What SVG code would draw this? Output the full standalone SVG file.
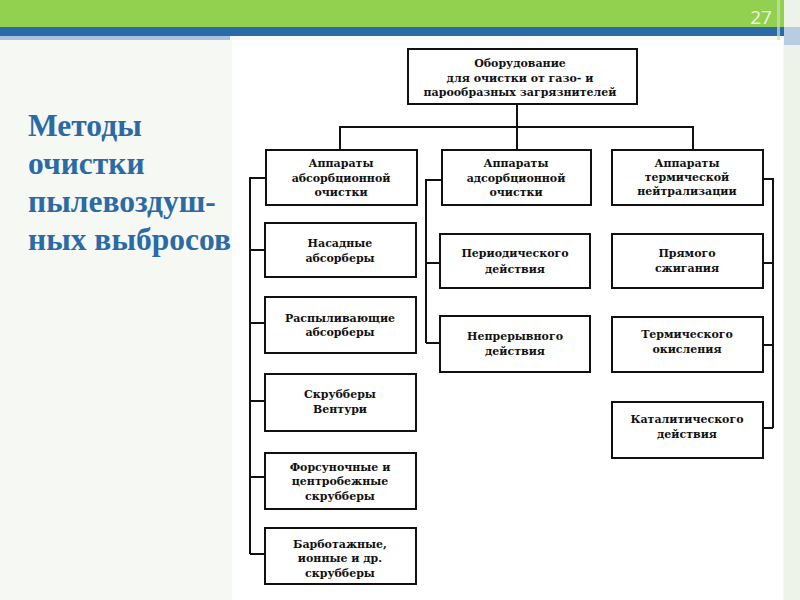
<svg xmlns="http://www.w3.org/2000/svg" width="800" height="600" viewBox="0 0 800 600">
<style>
.box{fill:#fff;stroke:#111;stroke-width:2}
.ln{fill:none;stroke:#111;stroke-width:2}
.t{font-family:"DejaVu Serif","Liberation Serif",serif;font-weight:bold;font-size:11px;fill:#111;text-anchor:middle}
.title{font-family:"Liberation Serif",serif;font-weight:bold;font-size:31.5px;fill:#2c6aa6}
</style>
<rect x="0" y="0" width="800" height="600" fill="#f6f8f3"/>
<rect x="0" y="0" width="800" height="27" fill="#92d050"/>
<rect x="0" y="27" width="800" height="9" fill="#2a6aa8"/>
<rect x="0" y="36" width="230" height="4" fill="#a9c3df"/>
<rect x="777" y="0" width="3" height="40" fill="#c8e3b0" opacity="0.7"/>
<rect x="784" y="0" width="16" height="600" fill="#eef3ea"/>
<rect x="784" y="27" width="16" height="18" fill="#b9cde2"/>
<text x="761" y="24" font-family="Open Sans,Liberation Sans,sans-serif" font-size="19" fill="#eef6e6" text-anchor="middle">27</text>
<g id="title">
<text class="title" x="28" y="136">Методы</text>
<text class="title" x="28" y="174">очистки</text>
<text class="title" x="28" y="212">пылевоздуш-</text>
<text class="title" x="28" y="250">ных выбросов</text>
</g>
<rect x="232" y="40" width="551" height="560" fill="#fff"/>
<g id="connectors">
<path class="ln" d="M517 104V150M340 150V127H693V150"/>
<path class="ln" d="M266 178H250V554M250 250H265M250 323H265M250 401H265M250 477H265M250 554H265"/>
<path class="ln" d="M442 180H426V343M426 263H440M426 343H440"/>
<path class="ln" d="M763 179H773V428M773 263H763M773 345H763M773 428H763"/>
</g>
<g id="n0"><rect class="box" x="408" y="49" width="229" height="55"/>
<text class="t" x="520" y="67">Оборудование</text><text class="t" x="520" y="82">для очистки от газо- и</text><text class="t" x="520" y="96">парообразных загрязнителей</text></g>
<g id="n1"><rect class="box" x="266" y="150" width="151" height="55"/>
<text class="t" x="341" y="167">Аппараты</text><text class="t" x="341" y="182">абсорбционной</text><text class="t" x="341" y="196">очистки</text></g>
<g id="n2"><rect class="box" x="442" y="150" width="149" height="55"/>
<text class="t" x="516" y="167">Аппараты</text><text class="t" x="516" y="182">адсорбционной</text><text class="t" x="516" y="196">очистки</text></g>
<g id="n3"><rect class="box" x="612" y="150" width="151" height="55"/>
<text class="t" x="687" y="167">Аппараты</text><text class="t" x="687" y="181">термической</text><text class="t" x="687" y="195">нейтрализации</text></g>
<g id="n4"><rect class="box" x="265" y="223" width="151" height="54"/>
<text class="t" x="340" y="247">Насадные</text><text class="t" x="340" y="262">абсорберы</text></g>
<g id="n5"><rect class="box" x="265" y="297" width="151" height="56"/>
<text class="t" x="340" y="322">Распыливающие</text><text class="t" x="340" y="336">абсорберы</text></g>
<g id="n6"><rect class="box" x="265" y="374" width="151" height="57"/>
<text class="t" x="340" y="398">Скрубберы</text><text class="t" x="340" y="413">Вентури</text></g>
<g id="n7"><rect class="box" x="265" y="453" width="151" height="56"/>
<text class="t" x="340" y="471">Форсуночные и</text><text class="t" x="340" y="485">центробежные</text><text class="t" x="340" y="500">скрубберы</text></g>
<g id="n8"><rect class="box" x="265" y="528" width="151" height="56"/>
<text class="t" x="340" y="548">Барботажные,</text><text class="t" x="340" y="562">ионные и др.</text><text class="t" x="340" y="577">скрубберы</text></g>
<g id="n9"><rect class="box" x="440" y="234" width="150" height="54"/>
<text class="t" x="515" y="257">Периодического</text><text class="t" x="515" y="273">действия</text></g>
<g id="n10"><rect class="box" x="440" y="316" width="150" height="56"/>
<text class="t" x="515" y="340">Непрерывного</text><text class="t" x="515" y="355">действия</text></g>
<g id="n11"><rect class="box" x="612" y="234" width="151" height="54"/>
<text class="t" x="687" y="257">Прямого</text><text class="t" x="687" y="272">сжигания</text></g>
<g id="n12"><rect class="box" x="612" y="317" width="151" height="55"/>
<text class="t" x="687" y="338">Термического</text><text class="t" x="687" y="353">окисления</text></g>
<g id="n13"><rect class="box" x="612" y="402" width="151" height="56"/>
<text class="t" x="687" y="423">Каталитического</text><text class="t" x="687" y="438">действия</text></g>
</svg>
